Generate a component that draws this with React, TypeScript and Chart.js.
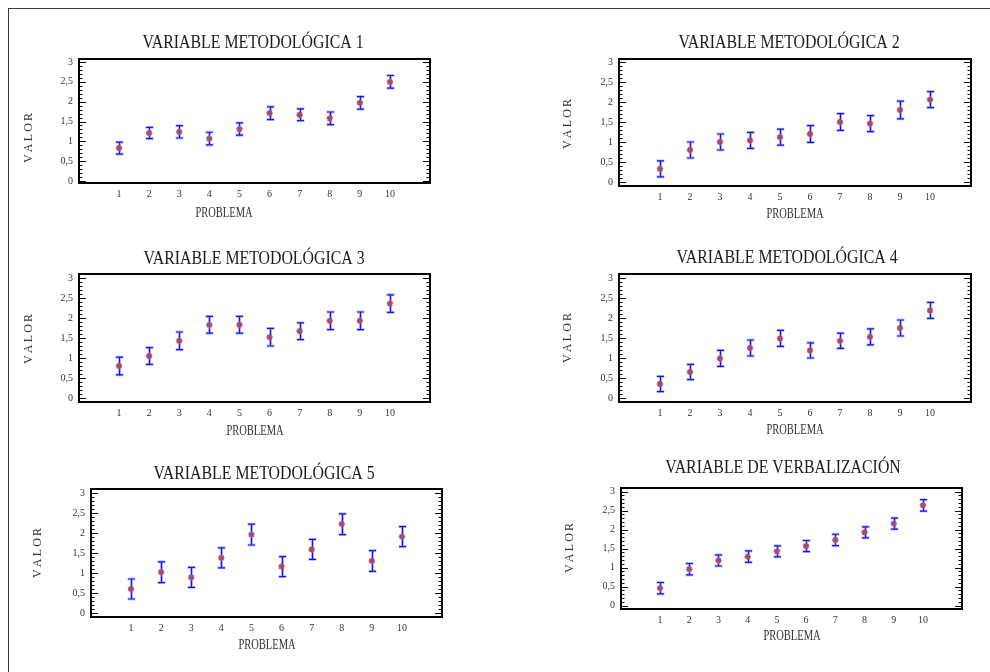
import React, { useEffect, useRef } from "react";
import { Chart, registerables } from "chart.js";

Chart.register(...registerables);

// ---------- data ----------
const problems = [1, 2, 3, 4, 5, 6, 7, 8, 9, 10];
const problemLabels = ["1", "2", "3", "4", "5", "6", "7", "8", "9", "10"];
const yTickValues = [0, 0.5, 1, 1.5, 2, 2.5, 3];
const yTickLabels = ["0", "0,5", "1", "1,5", "2", "2,5", "3"];

const titles = [
  "VARIABLE METODOLÓGICA 1",
  "VARIABLE METODOLÓGICA 2",
  "VARIABLE METODOLÓGICA 3",
  "VARIABLE METODOLÓGICA 4",
  "VARIABLE METODOLÓGICA 5",
  "VARIABLE DE VERBALIZACIÓN",
];
const xTitle = "PROBLEMA";
const yTitle = "VALOR";

const means1 = [0.83, 1.21, 1.24, 1.07, 1.31, 1.71, 1.67, 1.58, 1.97, 2.5];
const errs1 = [0.15, 0.14, 0.155, 0.16, 0.155, 0.16, 0.15, 0.16, 0.16, 0.16];

const means2 = [0.33, 0.8, 1.0, 1.04, 1.12, 1.2, 1.5, 1.46, 1.8, 2.06];
const errs2 = [0.2, 0.2, 0.2, 0.2, 0.2, 0.21, 0.21, 0.2, 0.22, 0.2];

const means3 = [0.8, 1.05, 1.43, 1.83, 1.83, 1.52, 1.67, 1.93, 1.93, 2.36];
const errs3 = [0.22, 0.21, 0.22, 0.21, 0.21, 0.22, 0.21, 0.22, 0.22, 0.22];

const means4 = [0.35, 0.65, 0.99, 1.25, 1.49, 1.19, 1.43, 1.53, 1.75, 2.19];
const errs4 = [0.19, 0.19, 0.2, 0.2, 0.2, 0.19, 0.19, 0.2, 0.2, 0.2];

const means5 = [0.6, 1.02, 0.89, 1.38, 1.96, 1.16, 1.59, 2.22, 1.3, 1.91];
const errs5 = [0.25, 0.26, 0.25, 0.25, 0.26, 0.25, 0.25, 0.26, 0.26, 0.25];

const means6 = [0.46, 0.96, 1.19, 1.29, 1.43, 1.57, 1.73, 1.93, 2.16, 2.64];
const errs6 = [0.15, 0.15, 0.145, 0.15, 0.145, 0.145, 0.15, 0.145, 0.145, 0.15];

const meansList = [means1, means2, means3, means4, means5, means6];
const errsList = [errs1, errs2, errs3, errs4, errs5, errs6];

// ---------- layout (page coordinates) ----------
const CW = 495;
const CH = 224;
const YW = 40;
const XH = 22;
const SERIF = "'Liberation Serif', 'Times New Roman', Times, serif";

type Geo = {
  cellX: number; cellY: number;
  L: number; R: number; T: number; B: number;
  xMin: number; xMax: number; yMin: number; yMax: number;
  titleX: number; titleY: number;
  valorX: number; valorY: number;
  probX: number; probY: number;
};

const geos: Geo[] = [
  { cellX: 0, cellY: 0, L: 79, R: 430, T: 59, B: 183, xMin: -0.33, xMax: 11.33, yMin: -0.05, yMax: 3.076,
    titleX: 253, titleY: 48, valorX: 28, valorY: 138, probX: 224, probY: 217 },
  { cellX: 495, cellY: 0, L: 619, R: 971, T: 59, B: 186, xMin: -0.367, xMax: 11.367, yMin: -0.1, yMax: 3.075,
    titleX: 789, titleY: 48, valorX: 567, valorY: 124, probX: 795, probY: 218 },
  { cellX: 0, cellY: 224, L: 79, R: 430, T: 274, B: 402, xMin: -0.33, xMax: 11.33, yMin: -0.1, yMax: 3.1,
    titleX: 254, titleY: 264, valorX: 28, valorY: 339, probX: 255, probY: 435 },
  { cellX: 495, cellY: 224, L: 619, R: 971, T: 274, B: 402, xMin: -0.367, xMax: 11.367, yMin: -0.1, yMax: 3.1,
    titleX: 787, titleY: 263, valorX: 567, valorY: 338, probX: 795, probY: 434 },
  { cellX: 0, cellY: 448, L: 91, R: 442, T: 489, B: 617, xMin: -0.33, xMax: 11.33, yMin: -0.1, yMax: 3.1,
    titleX: 264, titleY: 479, valorX: 37, valorY: 553, probX: 267, probY: 649 },
  { cellX: 495, cellY: 448, L: 621, R: 962, T: 488, B: 609, xMin: -0.336, xMax: 11.336, yMin: -0.087, yMax: 3.097,
    titleX: 783, titleY: 473, valorX: 569, valorY: 548, probX: 792, probY: 640 },
];

function decoPlugin(idx: number) {
  const g = geos[idx];
  const means = meansList[idx];
  const errs = errsList[idx];
  return {
    id: "deco" + idx,
    beforeDatasetsDraw(chart: any) {
      const { ctx } = chart;
      const xs = chart.scales.x;
      const ys = chart.scales.y;
      ctx.save();
      ctx.lineCap = "butt";
      means.forEach((m, i) => {
        const px = Math.round(xs.getPixelForValue(problems[i])) + 0.5;
        const top = ys.getPixelForValue(m + errs[i]);
        const bot = ys.getPixelForValue(m - errs[i]);
        // light halo
        ctx.strokeStyle = "rgba(120,120,255,0.45)";
        ctx.lineWidth = 3;
        ctx.beginPath();
        ctx.moveTo(px, top);
        ctx.lineTo(px, bot);
        ctx.moveTo(px - 4, top);
        ctx.lineTo(px + 4, top);
        ctx.moveTo(px - 4, bot);
        ctx.lineTo(px + 4, bot);
        ctx.stroke();
        // dark line
        ctx.strokeStyle = "#1010f0";
        ctx.lineWidth = 1.2;
        ctx.beginPath();
        ctx.moveTo(px, top);
        ctx.lineTo(px, bot);
        ctx.moveTo(px - 3.5, top);
        ctx.lineTo(px + 3.5, top);
        ctx.moveTo(px - 3.5, bot);
        ctx.lineTo(px + 3.5, bot);
        ctx.stroke();
      });
      ctx.restore();
    },
    afterDraw(chart: any) {
      const { ctx, chartArea } = chart;
      const ys = chart.scales.y;
      const { left, right, top, bottom } = chartArea;
      ctx.save();
      // frame
      ctx.strokeStyle = "#000";
      ctx.lineWidth = 2;
      ctx.strokeRect(left, top, right - left, bottom - top);
      // inner ticks, major every 0.5 and minor every 0.1
      ctx.lineWidth = 1;
      ctx.beginPath();
      for (let k = 0; k <= 30; k++) {
        const v = k / 10;
        const py = Math.round(ys.getPixelForValue(v)) + 0.5;
        const len = k % 5 === 0 ? 7 : 3.5;
        ctx.moveTo(left, py);
        ctx.lineTo(left + len, py);
        ctx.moveTo(right, py);
        ctx.lineTo(right - len, py);
      }
      ctx.stroke();

      const ox = g.cellX;
      const oy = g.cellY;
      ctx.fillStyle = "#1a1a1a";
      // title
      ctx.save();
      ctx.translate(g.titleX - ox, g.titleY - oy);
      ctx.scale(0.88, 1);
      ctx.font = `18px ${SERIF}`;
      ctx.textAlign = "center";
      ctx.textBaseline = "alphabetic";
      ctx.fillText(titles[idx], 0, 0);
      ctx.restore();
      // x title
      ctx.save();
      ctx.translate(g.probX - ox, g.probY - oy);
      ctx.scale(0.7, 1);
      ctx.font = `15px ${SERIF}`;
      ctx.textAlign = "center";
      ctx.textBaseline = "alphabetic";
      ctx.fillStyle = "#333";
      ctx.fillText(xTitle, 0, 0);
      ctx.restore();
      // y title, letter spaced
      ctx.save();
      ctx.translate(g.valorX - ox, g.valorY - oy);
      ctx.rotate(-Math.PI / 2);
      ctx.font = `12px ${SERIF}`;
      ctx.textAlign = "left";
      ctx.textBaseline = "alphabetic";
      ctx.fillStyle = "#333";
      const letters = yTitle.split("");
      const gap = 2.2;
      const widths = letters.map((c) => ctx.measureText(c).width);
      const total = widths.reduce((a, b) => a + b, 0) + gap * (letters.length - 1);
      let cx = -total / 2;
      letters.forEach((c, i) => {
        ctx.fillText(c, cx, 4);
        cx += widths[i] + gap;
      });
      ctx.restore();
      ctx.restore();
    },
  };
}

function Panel({ idx }: { idx: number }) {
  const ref = useRef<HTMLCanvasElement | null>(null);
  const g = geos[idx];
  useEffect(() => {
    const canvas = ref.current;
    if (!canvas) return;
    const pts = problems.map((p, i) => ({ x: p, y: meansList[idx][i] }));
    const chart = new Chart(canvas, {
      type: "scatter",
      data: {
        datasets: [
          {
            data: pts,
            pointStyle: "star",
            radius: 3.5,
            borderWidth: 1.8,
            borderColor: "rgba(220,140,175,0.5)",
            backgroundColor: "rgba(0,0,0,0)",
          },
          {
            data: pts,
            pointStyle: "star",
            radius: 3,
            borderWidth: 1.5,
            borderColor: "#700838",
            backgroundColor: "rgba(0,0,0,0)",
          },
        ],
      },
      options: {
        responsive: false,
        animation: false,
        events: [],
        layout: {
          padding: {
            left: g.L - g.cellX - YW,
            right: g.cellX + CW - g.R,
            top: g.T - g.cellY,
            bottom: g.cellY + CH - g.B - XH,
          },
        },
        plugins: {
          legend: { display: false },
          tooltip: { enabled: false },
          title: { display: false },
        },
        scales: {
          x: {
            type: "linear",
            min: g.xMin,
            max: g.xMax,
            grid: { display: false, drawTicks: false },
            border: { display: false },
            ticks: {
              padding: 5,
              autoSkip: false,
              maxRotation: 0,
              color: "#333",
              font: { family: SERIF, size: 10 },
              callback: (_v: any, i: number) => problemLabels[i],
            },
            afterBuildTicks: (s: any) => {
              s.ticks = problems.map((v) => ({ value: v }));
            },
            afterFit: (s: any) => {
              s.height = XH;
            },
          },
          y: {
            type: "linear",
            min: g.yMin,
            max: g.yMax,
            grid: { display: false, drawTicks: false },
            border: { display: false },
            ticks: {
              padding: 6,
              autoSkip: false,
              color: "#333",
              font: { family: SERIF, size: 10 },
              callback: (_v: any, i: number) => yTickLabels[i],
            },
            afterBuildTicks: (s: any) => {
              s.ticks = yTickValues.map((v) => ({ value: v }));
            },
            afterFit: (s: any) => {
              s.width = YW;
            },
          },
        },
      },
      plugins: [decoPlugin(idx)],
    } as any);
    return () => chart.destroy();
  }, [idx]);
  return (
    <canvas
      ref={ref}
      width={CW}
      height={CH}
      style={{ position: "absolute", left: g.cellX, top: g.cellY, width: CW, height: CH }}
    />
  );
}

export default function App() {
  return (
    <div style={{ position: "fixed", left: 0, top: 0, width: 990, height: 672, background: "#fff", overflow: "hidden" }}>
      <div
        style={{
          position: "absolute",
          left: 8,
          top: 8,
          width: 1100,
          height: 800,
          borderLeft: "1px solid #3a3a3a",
          borderTop: "1px solid #3a3a3a",
        }}
      />
      {geos.map((_, i) => (
        <Panel key={i} idx={i} />
      ))}
    </div>
  );
}
